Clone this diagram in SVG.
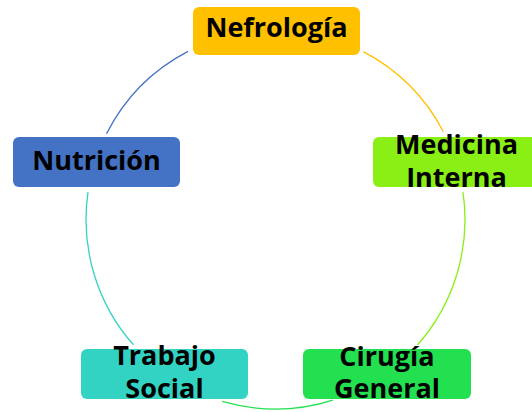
<svg xmlns="http://www.w3.org/2000/svg" width="532" height="412" viewBox="0 0 532 412">
<style>
.arc{fill:none;stroke-width:1.3}
.box{stroke:none}
.lbl{font-family:"Open Sans","Liberation Sans",sans-serif;font-weight:bold;font-size:27px;fill:#000;text-anchor:middle}
</style>
<rect width="532" height="412" fill="#fff"/>
<g id="connectors">
<path class="arc" stroke="#FFC000" d="M363.3,51.6 A189.5,189.5 0 0 1 443.4,131.7"/>
<path class="arc" stroke="#8AEF14" d="M463,192.1 A189.5,189.5 0 0 1 417.6,344.8"/>
<path class="arc" stroke="#22E04F" d="M332.8,400.1 A189.5,189.5 0 0 1 222.3,401.4"/>
<path class="arc" stroke="#33D3C4" d="M133.4,344.8 A189.5,189.5 0 0 1 88,192.1"/>
<path class="arc" stroke="#4472C4" d="M106.5,133.8 A189.5,189.5 0 0 1 188,51.4"/>
</g>
<g id="nefrologia">
<rect class="box" x="193" y="7" width="167" height="48" rx="6" fill="#FFC000"/>
<text class="lbl" x="276.5" y="37">Nefrología</text>
</g>
<g id="medicina-interna">
<rect class="box" x="373" y="137" width="167" height="50" rx="6" fill="#8AEF14"/>
<text class="lbl" x="456.5" y="154">Medicina</text>
<text class="lbl" x="456.5" y="187">Interna</text>
</g>
<g id="cirugia-general">
<rect class="box" x="303" y="349" width="168" height="50" rx="6" fill="#22E04F"/>
<text class="lbl" x="387" y="366">Cirugía</text>
<text class="lbl" x="387" y="398">General</text>
</g>
<g id="trabajo-social">
<rect class="box" x="81" y="349" width="167" height="50" rx="6" fill="#33D3C4"/>
<text class="lbl" x="164.5" y="365">Trabajo</text>
<text class="lbl" x="164.5" y="398">Social</text>
</g>
<g id="nutricion">
<rect class="box" x="13" y="137" width="167" height="50" rx="6" fill="#4472C4"/>
<text class="lbl" x="96.5" y="170">Nutrición</text>
</g>
</svg>
